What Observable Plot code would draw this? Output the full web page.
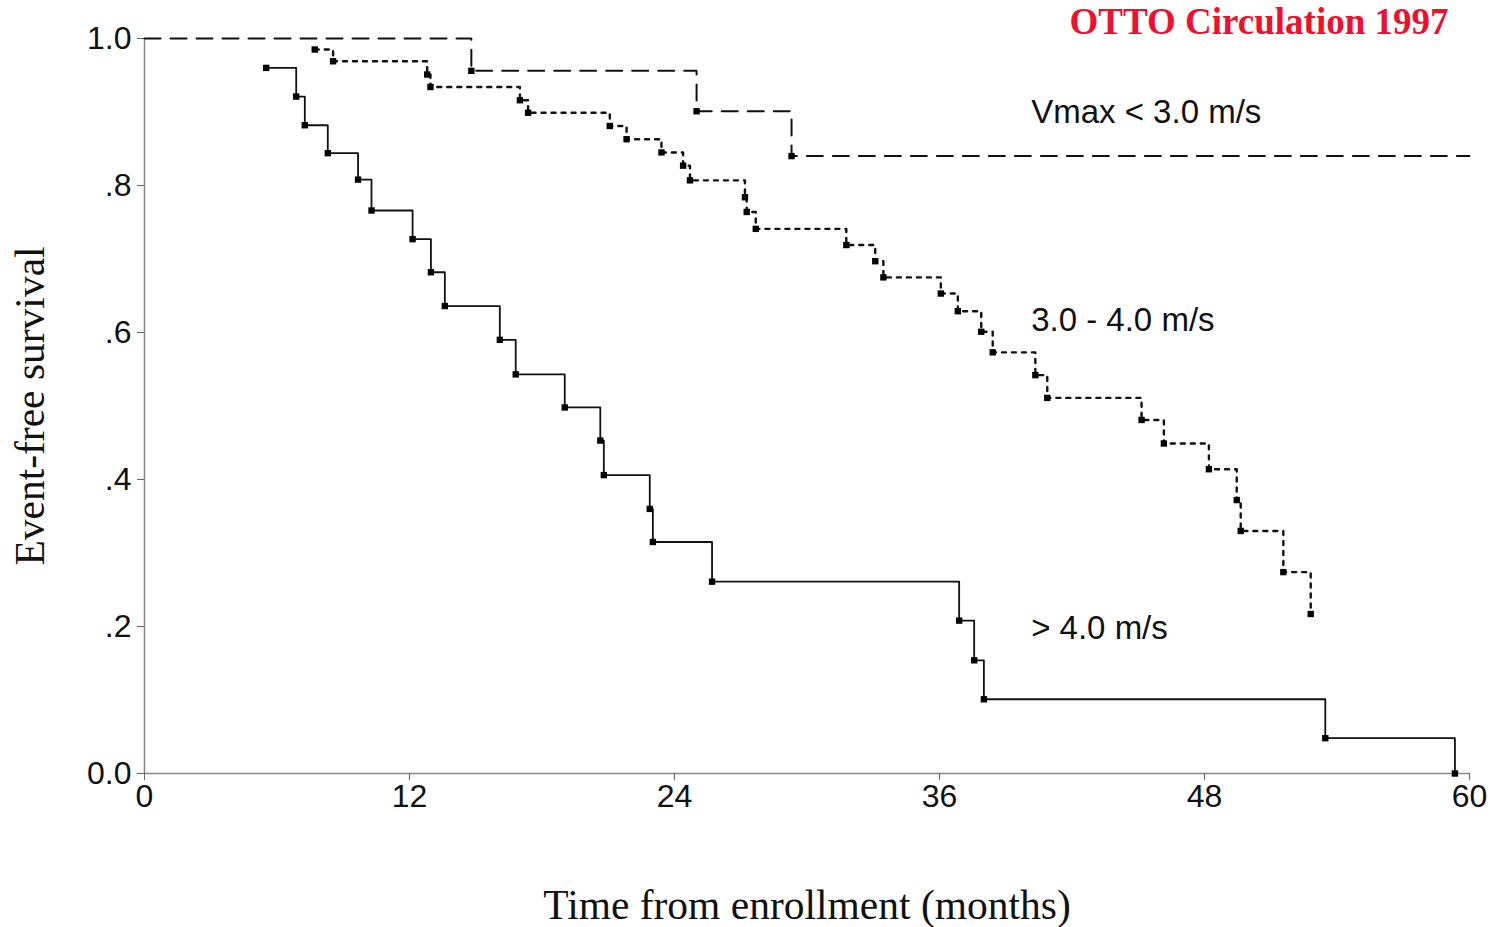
<!DOCTYPE html>
<html>
<head>
<meta charset="utf-8">
<script src="https://cdn.jsdelivr.net/npm/d3@7"></script>
<script src="https://cdn.jsdelivr.net/npm/@observablehq/plot@0.6"></script>
<style>
  html, body { margin: 0; padding: 0; background: #fff; }
  #chart { width: 1499px; height: 927px; }
</style>
</head>
<body>
<div id="chart"></div>
<script>
// ---- Data ----
const xTicks = [0, 12, 24, 36, 48, 60];
const xTickLabels = ["0", "12", "24", "36", "48", "60"];
const yTicks = [0, 0.2, 0.4, 0.6, 0.8, 1.0];
const yTickLabels = ["0.0", ".2", ".4", ".6", ".8", "1.0"];

// Vmax < 3.0 m/s (dashed)
const lowStart = [0, 1.0];
const lowTimes = [14.8, 25.0, 29.3];
const lowSurv  = [0.956, 0.901, 0.840];
const lowEndTime = 60;

// 3.0 - 4.0 m/s (dotted)
const midTimes = [7.71, 8.54, 12.80, 12.95, 17.0, 17.37, 21.07, 21.83, 23.41, 24.39, 24.70,
                  27.19, 27.27, 27.68, 31.78, 33.09, 33.46, 36.06, 36.83, 37.89, 38.41,
                  40.34, 40.88, 45.15, 46.16, 48.20, 49.46, 49.64, 51.57, 52.81];
const midSurv  = [0.985, 0.969, 0.951, 0.934, 0.916, 0.899, 0.881, 0.863, 0.845, 0.827, 0.807,
                  0.784, 0.764, 0.741, 0.719, 0.697, 0.675, 0.653, 0.629, 0.601, 0.573,
                  0.542, 0.511, 0.481, 0.449, 0.414, 0.372, 0.330, 0.274, 0.217];

// > 4.0 m/s (solid)
const highTimes = [5.51, 6.87, 7.26, 8.30, 9.67, 10.28, 12.14, 12.97, 13.60, 16.09, 16.81,
                   19.03, 20.64, 20.80, 22.88, 23.02, 25.70, 36.89, 37.57, 38.01, 53.47, 59.34];
const highSurv  = [0.960, 0.921, 0.882, 0.844, 0.808, 0.766, 0.727, 0.682, 0.636, 0.590, 0.543,
                   0.498, 0.453, 0.406, 0.360, 0.315, 0.261, 0.208, 0.154, 0.101, 0.048, 0.0];

// Curve labels
const curveLabels = ["Vmax < 3.0 m/s", "3.0 - 4.0 m/s", "> 4.0 m/s"];
const curveLabelX = [40.15, 40.15, 40.15];
const curveLabelY = [0.90, 0.616, 0.197];

const titleText = "OTTO Circulation 1997";
const xLabel = "Time from enrollment (months)";
const yLabel = "Event-free survival";

// ---- Build tables ----
const toPts = (ts, ss) => ts.map((t, i) => ({t, s: ss[i]}));
const lowEvents = toPts(lowTimes, lowSurv);
const lowLine = [{t: lowStart[0], s: lowStart[1]}, ...lowEvents,
                 {t: lowEndTime, s: lowSurv[lowSurv.length - 1]}];
const midEvents = toPts(midTimes, midSurv);
const highEvents = toPts(highTimes, highSurv);
const labels = curveLabels.map((text, i) => ({text, x: curveLabelX[i], y: curveLabelY[i]}));

const serif = "'Liberation Serif', 'Times New Roman', Times, serif";
const sans = "'Liberation Sans', Arial, Helvetica, sans-serif";

const chart = Plot.plot({
  width: 1499,
  height: 927,
  marginLeft: 144,
  marginRight: 30,
  marginTop: 38,
  marginBottom: 154,
  style: {fontFamily: sans, fontSize: "32px", background: "#fff", color: "#111", overflow: "visible"},
  x: {domain: [0, 60]},
  y: {domain: [0, 1]},
  marks: [
    Plot.ruleY([0], {stroke: "#888", strokeWidth: 1.5}),
    Plot.ruleX([0], {stroke: "#888", strokeWidth: 1.5}),
    Plot.axisX({ticks: xTicks, tickFormat: d => xTickLabels[xTicks.indexOf(d)], tickSize: 7,
                tickPadding: 4, stroke: "#666", fill: "#111", fontSize: 32, label: null}),
    Plot.axisY({ticks: yTicks, tickFormat: d => yTickLabels[yTicks.indexOf(d)], tickSize: 7,
                tickPadding: 6, stroke: "#666", fill: "#111", fontSize: 32, label: null}),
    // curves
    Plot.line(lowLine, {x: "t", y: "s", curve: "step-after", stroke: "#111", strokeWidth: 2,
                        strokeDasharray: "16,10"}),
    Plot.line(midEvents, {x: "t", y: "s", curve: "step-after", stroke: "#111", strokeWidth: 2.4,
                          strokeDasharray: "4,6"}),
    Plot.line(highEvents, {x: "t", y: "s", curve: "step-after", stroke: "#111", strokeWidth: 1.8}),
    Plot.dot(lowEvents, {x: "t", y: "s", symbol: "square", r: 3.6, fill: "#000", stroke: "none"}),
    Plot.dot(midEvents, {x: "t", y: "s", symbol: "square", r: 3.6, fill: "#000", stroke: "none"}),
    Plot.dot(highEvents, {x: "t", y: "s", symbol: "square", r: 3.6, fill: "#000", stroke: "none"}),
    // curve labels
    Plot.text(labels, {x: "x", y: "y", text: "text", textAnchor: "start", lineAnchor: "middle",
                       fontSize: 33, fontFamily: sans, fill: "#111"}),
    // title
    Plot.text([titleText], {frameAnchor: "top-right", text: d => d, textAnchor: "end",
                            lineAnchor: "middle", dx: -21, dy: -16, fontSize: 37,
                            fontWeight: "bold", fontFamily: serif, fill: "#f0102e"}),
    // axis labels
    Plot.text([xLabel], {frameAnchor: "bottom", text: d => d, textAnchor: "middle",
                         lineAnchor: "middle", dy: 132, fontSize: 41.5, fontFamily: serif, fill: "#111"}),
    Plot.text([yLabel], {frameAnchor: "left", text: d => d, textAnchor: "middle",
                         lineAnchor: "middle", dx: -114, rotate: -90, fontSize: 41.5,
                         fontFamily: serif, fill: "#111"})
  ]
});
document.getElementById("chart").appendChild(chart);
</script>
</body>
</html>
